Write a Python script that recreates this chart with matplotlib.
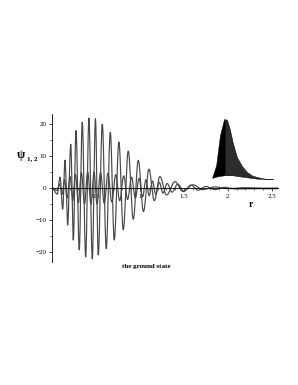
import numpy as np
import matplotlib
matplotlib.use('Agg')
import matplotlib.pyplot as plt


# extrema of the large curve psi_1 (r, value)
large_r = [0.0, 0.060, 0.091, 0.122, 0.148, 0.178, 0.213, 0.242, 0.273, 0.310,
           0.344, 0.383, 0.420, 0.458, 0.494, 0.526, 0.572, 0.617, 0.663, 0.708,
           0.761, 0.810, 0.867, 0.924, 0.981, 1.040, 1.102, 1.163, 1.227, 1.303,
           1.398, 1.489, 1.602, 1.716, 1.852, 2.000, 2.190, 2.420, 2.570]
large_psi = [0.0, -1.9, 3.4, -6.6, 8.7, -11.6, 13.7, -16.3, 18.0, -19.4,
             20.6, -21.6, 21.9, -22.2, 21.7, -21.0, 20.0, -19.0, 17.5, -16.3,
             14.4, -13.1, 11.6, -9.8, 8.7, -7.4, 5.9, -4.0, 3.6, -2.2,
             2.0, -1.1, 1.0, -0.5, 0.35, -0.2, 0.1, -0.05, 0.0]

# extrema of the small curve psi_2
small_r = [0.0, 0.055, 0.085, 0.115, 0.142, 0.172, 0.205, 0.235, 0.266, 0.300,
           0.334, 0.370, 0.406, 0.443, 0.478, 0.512, 0.552, 0.594, 0.636, 0.680,
           0.725, 0.770, 0.815, 0.860, 0.905, 0.948, 0.990, 1.030, 1.068, 1.105,
           1.142, 1.180, 1.220, 1.262, 1.310, 1.365, 1.430, 1.500, 1.580, 1.660,
           1.750, 1.850, 1.960, 2.080, 2.250, 2.450, 2.570]
small_psi = [0.0, -0.8, 1.3, -2.0, 2.6, -3.1, 3.6, -4.0, 4.3, -4.6,
             4.8, -5.0, 5.1, -5.1, 5.0, -5.0, 4.9, -4.8, 4.6, -4.4,
             4.2, -4.0, 3.8, -3.6, 3.4, -3.2, 3.0, -2.8, 2.6, -2.4,
             2.2, -2.0, 1.8, -1.6, 1.4, -1.3, 1.2, -1.0, 0.9, -0.7,
             0.5, -0.5, 0.2, -0.3, -0.2, -0.25, -0.2]

# small inset: density envelope
inset_x = [0.09, 0.27, 0.44, 0.62, 0.75, 0.88, 1.01, 1.19, 1.41, 1.63, 1.85, 2.07, 2.43, 2.78]
inset_top = [0.06, 0.25, 0.70, 0.94, 0.93, 0.78, 0.58, 0.37, 0.24, 0.15, 0.10, 0.075, 0.05, 0.045]
inset_bottom = [0.06, 0.08, 0.09, 0.10, 0.10, 0.10, 0.10, 0.09, 0.08, 0.07, 0.06, 0.05, 0.045, 0.04]

y_ticks = [-20, -10, 0, 10, 20]
x_ticks = [0.5, 1, 1.5, 2, 2.5]
x_tick_labels = ['0.5', '1', '1.5', '2', '2.5']


def smooth(rs, vs, n=14):
    # half-cosine strokes between successive extrema
    xs, ys = [], []
    for i in range(len(rs) - 1):
        t = np.linspace(0, 1, n, endpoint=False)
        xs.append(rs[i] + (rs[i + 1] - rs[i]) * t)
        ys.append(vs[i] + (vs[i + 1] - vs[i]) * (1 - np.cos(np.pi * t)) / 2)
    xs.append([rs[-1]])
    ys.append([vs[-1]])
    return np.concatenate(xs), np.concatenate(ys)


serif = ['Liberation Serif', 'DejaVu Serif']

fig = plt.figure(figsize=(2.98, 3.85), dpi=100)
ax = fig.add_axes([52 / 298, 1 - 262 / 385, 226 / 298, 148 / 385])

x1, y1 = smooth(large_r, large_psi)
x2, y2 = smooth(small_r, small_psi)
ax.plot(x1, y1, color='#484848', lw=0.85)
ax.plot(x2, y2, color='#484848', lw=0.85)

ax.set_xlim(0, 2.57)
ax.set_ylim(-23.2, 23.2)
ax.spines['top'].set_visible(False)
ax.spines['right'].set_visible(False)
ax.spines['bottom'].set_position(('data', 0))
ax.spines['left'].set_linewidth(0.6)
ax.spines['bottom'].set_linewidth(0.6)
ax.set_yticks(y_ticks)
ax.set_yticks(np.arange(-20, 21, 5), minor=True)
ax.set_xticks(x_ticks)
ax.set_xticklabels(x_tick_labels)
ax.set_xticks(np.arange(0.1, 2.6, 0.1), minor=True)
ax.tick_params(which='major', length=2.5, width=0.5, labelsize=5, pad=1.5)
ax.tick_params(which='minor', length=1.5, width=0.4)
for lab in ax.get_xticklabels() + ax.get_yticklabels():
    lab.set_family(serif)
ax.patch.set_alpha(0)

fig.text(17 / 298, 1 - 158 / 385, 'ψ', family=serif, weight='bold', fontsize=8.5)
fig.text(27 / 298, 1 - 160 / 385, '1, 2', family=serif, weight='bold', fontsize=5)
fig.text(251 / 298, 1 - 207 / 385, 'r', family=serif, weight='bold', fontsize=7, ha='center')
fig.text(146 / 298, 1 - 268 / 385, 'the ground state', family=serif, weight='bold',
         fontsize=5, ha='center')

# inset
axi = fig.add_axes([210 / 298, 1 - 182 / 385, 68 / 298, 67 / 385])
axi.set_xlim(0, 3)
axi.set_ylim(0, 1)
axi.axis('off')
poly = axi.fill_between(inset_x, inset_bottom, inset_top, color='black', lw=0.3)
stripes = axi.vlines(np.arange(0.7, 2.9, 0.045), 0, 1, color='white', lw=0.25, alpha=0.55)
stripes.set_clip_path(poly.get_paths()[0], axi.transData)

fig.savefig('out.png', dpi=100)
